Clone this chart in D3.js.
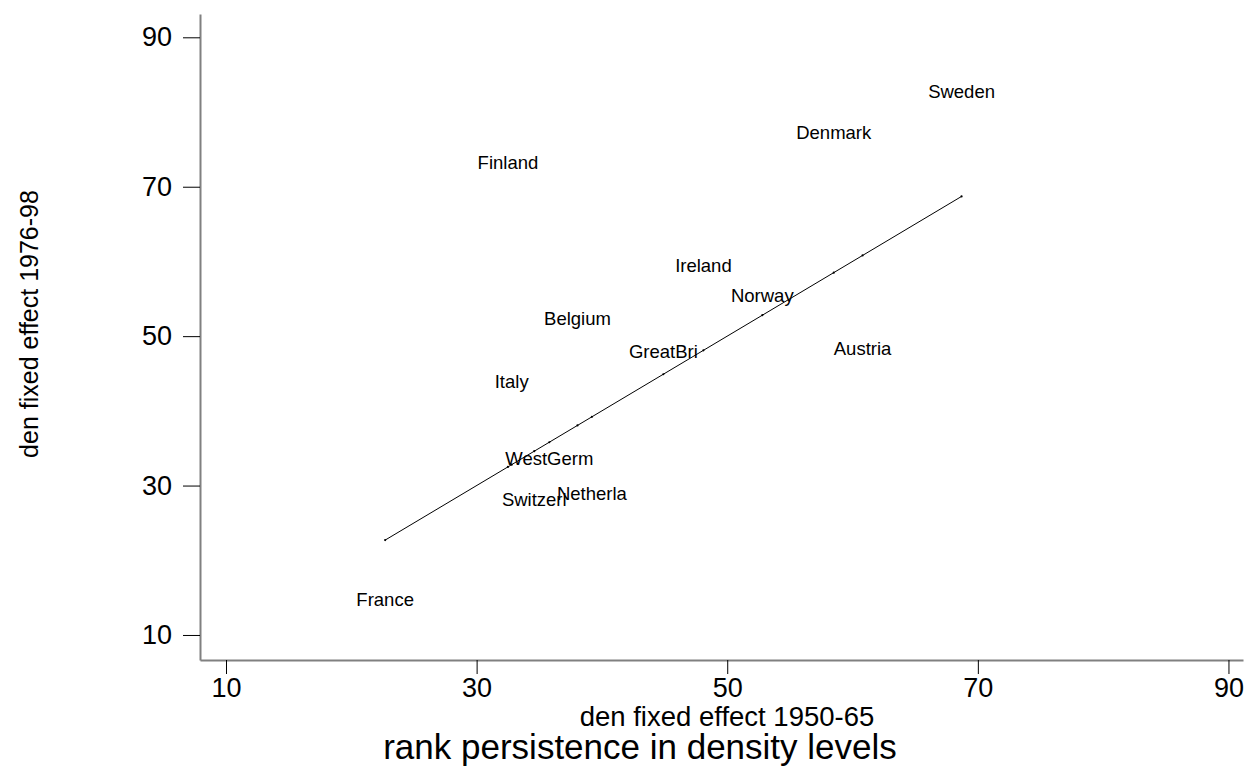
<!DOCTYPE html>
<html>
<head>
<meta charset="utf-8">
<script src="https://cdn.jsdelivr.net/npm/d3@7"></script>
<style>
  html, body { margin: 0; padding: 0; background: #fff; }
  svg { display: block; font-family: "Liberation Sans", Arial, sans-serif; }
</style>
</head>
<body>
<svg id="chart" width="1245" height="767"></svg>
<script>
// Country labels and their density fixed effects in the two periods
const countries = ["Sweden", "Denmark", "Finland", "Ireland", "Norway", "Belgium",
  "GreatBri", "Austria", "Italy", "WestGerm", "Switzerl", "Netherla", "France"];
const fe1950 = [68.7, 58.5, 32.5, 48.1, 52.8, 38.05, 44.9, 60.8, 32.8, 35.8, 34.6, 39.2, 22.7];
const fe1976 = [82.8, 77.3, 73.2, 59.5, 55.5, 52.4, 47.9, 48.4, 43.9, 33.6, 28.1, 28.9, 14.8];
const xTicks = [10, 30, 50, 70, 90];
const yTicks = [10, 30, 50, 70, 90];

const svg = d3.select("#chart");

const x = d3.scaleLinear().domain([7.925, 91.16]).range([200, 1243]);
const y = d3.scaleLinear().domain([6.65, 93.12]).range([660, 14]);

const pts = countries.map((c, i) => ({ name: c, x: fe1950[i], y: fe1976[i] }));

// Axes
const xAxis = svg.append("g").attr("transform", "translate(0,660)")
  .call(d3.axisBottom(x).tickValues(xTicks).tickSizeInner(14).tickSizeOuter(0)
    .tickPadding(4).tickFormat(d3.format("d")));
const yAxis = svg.append("g").attr("transform", "translate(200,0)")
  .call(d3.axisLeft(y).tickValues(yTicks).tickSizeInner(17).tickSizeOuter(0)
    .tickPadding(11).tickFormat(d3.format("d")));

[xAxis, yAxis].forEach(g => {
  g.select(".domain").attr("stroke", "#808080").attr("stroke-width", 2);
  g.selectAll(".tick line").attr("stroke", "#000").attr("stroke-width", 1);
  g.selectAll(".tick text").attr("fill", "#000").attr("font-size", 27)
    .attr("font-family", "Liberation Sans, Arial, sans-serif");
});

// 45-degree line through each country's 1950-65 value
const diag = pts.map(p => ({ x: p.x, y: p.x })).sort((a, b) => a.x - b.x);
svg.append("path")
  .datum(diag)
  .attr("fill", "none")
  .attr("stroke", "#000")
  .attr("stroke-width", 1)
  .attr("d", d3.line().x(d => x(d.x)).y(d => y(d.y)));

svg.append("g").selectAll("circle")
  .data(diag)
  .join("circle")
  .attr("cx", d => x(d.x))
  .attr("cy", d => y(d.y))
  .attr("r", 1.1)
  .attr("fill", "#000");

// Country labels centred on their points
svg.append("g").selectAll("text")
  .data(pts)
  .join("text")
  .attr("x", d => x(d.x))
  .attr("y", d => y(d.y))
  .attr("dy", "0.36em")
  .attr("text-anchor", "middle")
  .attr("font-size", 18.5)
  .attr("fill", "#000")
  .text(d => d.name);

// Axis titles and chart title
svg.append("text")
  .attr("x", 727).attr("y", 726)
  .attr("text-anchor", "middle")
  .attr("font-size", 27.5)
  .text("den fixed effect 1950-65");

svg.append("text")
  .attr("transform", "translate(38,324) rotate(-90)")
  .attr("text-anchor", "middle")
  .attr("font-size", 25)
  .text("den fixed effect 1976-98");

svg.append("text")
  .attr("x", 640).attr("y", 759)
  .attr("text-anchor", "middle")
  .attr("font-size", 35)
  .text("rank persistence in density levels");
</script>
</body>
</html>
